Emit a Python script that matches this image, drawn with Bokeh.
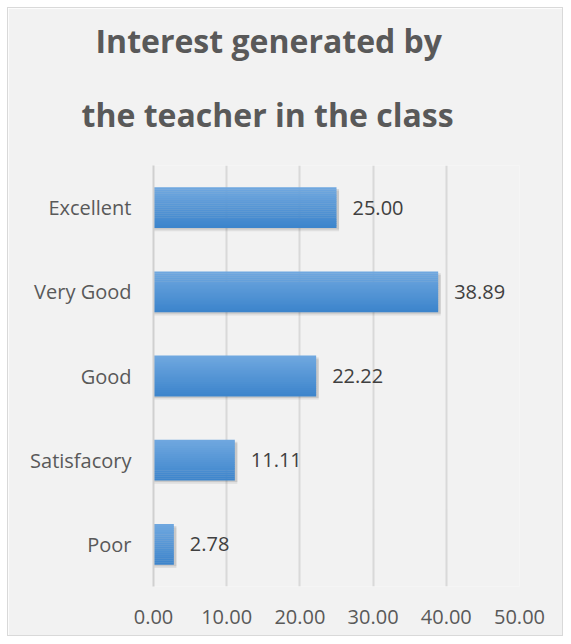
from bokeh.plotting import figure
from bokeh.models import Title, ColumnDataSource, LabelSet, NumeralTickFormatter, FixedTicker
from bokeh.transform import dodge
from bokeh.embed import file_html
from bokeh.resources import INLINE
from bokeh.core.properties import value

# ---- data ----
categories = ["Excellent", "Very Good", "Good", "Satisfacory", "Poor"]
values = [25.00, 38.89, 22.22, 11.11, 2.78]
x_ticks = [0, 10, 20, 30, 40, 50]
title_lines = ["Interest generated by", "the teacher in the class"]

factors = list(reversed(categories))
labels = ["%.2f" % v for v in values]
src = ColumnDataSource(dict(cat=categories, val=values, lab=labels,
                            shadow=[v + 0.35 for v in values]))

FONT = "Open Sans"

p = figure(y_range=factors, x_range=(0, 50), width=556, height=629,
           output_backend="svg", toolbar_location=None,
           min_border_left=145, min_border_right=45,
           min_border_top=157, min_border_bottom=51,
           background_fill_color="#f2f2f2", border_fill_color="#f2f2f2",
           title=None)
p.styles = {"margin-left": "7px", "margin-top": "7px",
            "border": "1px solid #d9d9d9"}
p.outline_line_color = None

# titles (added bottom line first -> stacked outward)
p.add_layout(Title(text=title_lines[1], align="left", offset=-72, text_font=FONT,
                   text_font_size="32px", text_font_style="bold",
                   text_color="#595959", standoff=59), "above")
p.add_layout(Title(text=title_lines[0], align="left", offset=-58, text_font=FONT,
                   text_font_size="32px", text_font_style="bold",
                   text_color="#595959", standoff=0), "above")

BH = 0.48
# soft shadow
p.hbar(y=dodge("cat", -0.04, range=p.y_range), left=0, right="shadow",
       height=BH, source=src, fill_color="#000000", fill_alpha=0.08,
       line_color=None)
p.hbar(y=dodge("cat", -0.02, range=p.y_range), left=0, right="shadow",
       height=BH, source=src, fill_color="#000000", fill_alpha=0.10,
       line_color=None)

# gradient bars via strips
top = (0x70, 0xa8, 0xe0)
bot = (0x3c, 0x84, 0xcb)
N = 20
for i in range(N):
    t = (i + 0.5) / N
    c = tuple(int(round(top[k] + (bot[k] - top[k]) * t)) for k in range(3))
    col = "#%02x%02x%02x" % c
    off = BH / 2 - (i + 0.5) * BH / N
    p.hbar(y=dodge("cat", off, range=p.y_range), left=0, right="val",
           height=BH / N + 0.004, source=src, fill_color=col, line_color=None)

p.add_layout(LabelSet(x="val", y="cat", text="lab", source=src, x_offset=16,
                      text_baseline="middle", text_font=value(FONT),
                      text_font_size="20px", text_color="#404040"))

p.xaxis.ticker = FixedTicker(ticks=x_ticks)
p.xaxis.formatter = NumeralTickFormatter(format="0.00")
p.xaxis.axis_line_color = None
p.xaxis.major_tick_line_color = None
p.xaxis.minor_tick_line_color = None
p.xaxis.major_label_standoff = 17
p.xaxis.major_label_text_font = FONT
p.xaxis.major_label_text_font_size = "20px"
p.xaxis.major_label_text_color = "#595959"

p.yaxis.axis_line_color = "#d0d0d0"
p.yaxis.axis_line_width = 2
p.yaxis.major_tick_line_color = None
p.yaxis.minor_tick_line_color = None
p.yaxis.major_label_standoff = 16
p.yaxis.major_label_text_font = FONT
p.yaxis.major_label_text_font_size = "20px"
p.yaxis.major_label_text_color = "#595959"

p.ygrid.grid_line_color = None
p.xgrid.grid_line_color = "#d9d9d9"
p.xgrid.grid_line_width = 2

open("out.html", "w").write(file_html(p, INLINE))
